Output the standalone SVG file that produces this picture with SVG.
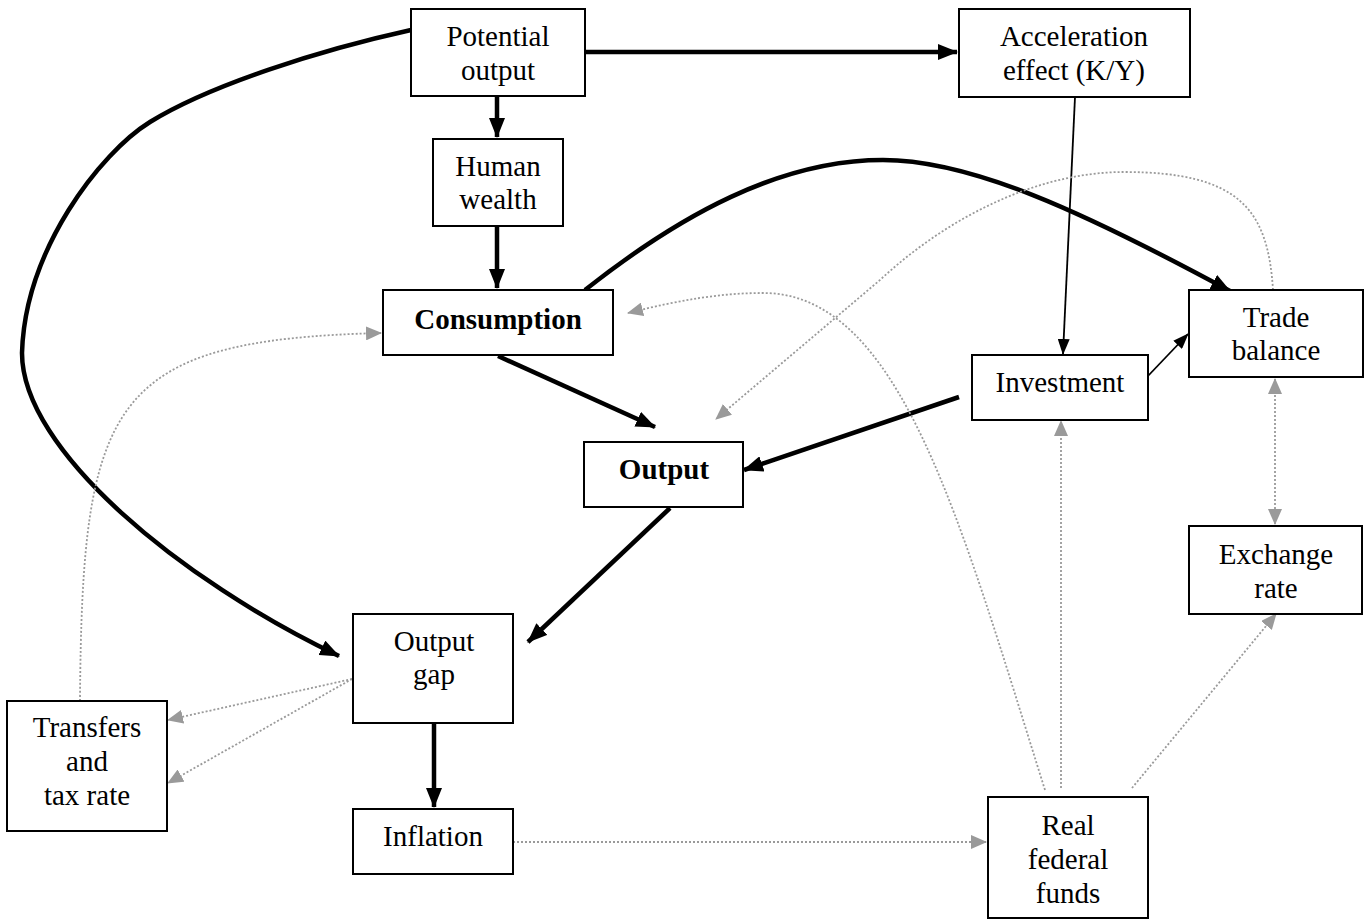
<svg xmlns="http://www.w3.org/2000/svg" width="1370" height="919" viewBox="0 0 1370 919">
<style>
.box{fill:#fff;stroke:#000;stroke-width:2}
.t{font-family:"Liberation Serif","Times New Roman",serif;font-size:29px;fill:#000;text-anchor:middle}
.b{font-weight:bold}
.thick{fill:none;stroke:#000;stroke-width:4.5}
.thin{fill:none;stroke:#000;stroke-width:1.8}
.dot{fill:none;stroke:#9a9a9a;stroke-width:1.8;stroke-dasharray:2 2}
</style>
<defs>
<marker id="ah" markerUnits="userSpaceOnUse" markerWidth="20" markerHeight="16" refX="19" refY="8" orient="auto"><path d="M0,0 L20,8 L0,16 z" fill="#000"/></marker>
<marker id="as" markerUnits="userSpaceOnUse" markerWidth="16" markerHeight="12" refX="15" refY="6" orient="auto"><path d="M0,0 L16,6 L0,12 z" fill="#000"/></marker>
<marker id="ag" markerUnits="userSpaceOnUse" markerWidth="16" markerHeight="14" refX="15" refY="7" orient="auto"><path d="M0,0 L16,7 L0,14 z" fill="#9a9a9a"/></marker>
<marker id="ags" markerUnits="userSpaceOnUse" markerWidth="16" markerHeight="14" refX="15" refY="7" orient="auto-start-reverse"><path d="M0,0 L16,7 L0,14 z" fill="#9a9a9a"/></marker>
</defs>
<g id="connectors">
<path class="thick" d="M497,96 L497,137" marker-end="url(#ah)"/>
<path class="thick" d="M585,52 L957,52" marker-end="url(#ah)"/>
<path class="thick" d="M497,226 L497,288" marker-end="url(#ah)"/>
<path class="thick" d="M498,356 L655,427" marker-end="url(#ah)"/>
<path class="thick" d="M585,290 C680,215 780,160 883,160 C970,160 1080,210 1230,291" marker-end="url(#ah)"/>
<path class="thick" d="M959,397 L744,470" marker-end="url(#ah)"/>
<path class="thick" d="M670,508 L528,642" marker-end="url(#ah)"/>
<path class="thick" d="M411,30 C320,50 210,85 150,122 C100,153 25,250 22,353 C22,450 180,580 339,656" marker-end="url(#ah)"/>
<path class="thick" d="M434,723 L434,807" marker-end="url(#ah)"/>
<path class="thin" d="M1075,97 L1063,354" marker-end="url(#as)"/>
<path class="thin" d="M1147,377 L1188,334" marker-end="url(#as)"/>
<path class="dot" d="M80,701 C82,400 110,340 381,333" marker-end="url(#ag)"/>
<path class="dot" d="M352,679 L168,720" marker-end="url(#ag)"/>
<path class="dot" d="M352,679 L168,783" marker-end="url(#ag)"/>
<path class="dot" d="M513,842 L986,842" marker-end="url(#ag)"/>
<path class="dot" d="M1061,788 L1061,421" marker-end="url(#ag)"/>
<path class="dot" d="M1132,788 L1276,614" marker-end="url(#ag)"/>
<path class="dot" d="M1275,379 L1275,524" marker-start="url(#ags)" marker-end="url(#ags)"/>
<path class="dot" d="M1045,790 C960,520 900,293 763,293 C720,293 680,300 628,313" marker-end="url(#ag)"/>
<path class="dot" d="M1273,290 C1268,210 1240,172 1124,172 C1040,172 950,215 880,280 L716,419" marker-end="url(#ag)"/>
</g>
<g id="potential-output"><rect class="box" x="411" y="9" width="174" height="87"/><text class="t" x="498" y="46">Potential</text><text class="t" x="498" y="80">output</text></g>
<g id="acceleration"><rect class="box" x="959" y="9" width="231" height="88"/><text class="t" x="1074" y="46">Acceleration</text><text class="t" x="1074" y="80">effect (K/Y)</text></g>
<g id="human-wealth"><rect class="box" x="433" y="139" width="130" height="87"/><text class="t" x="498" y="176">Human</text><text class="t" x="498" y="209">wealth</text></g>
<g id="consumption"><rect class="box" x="383" y="290" width="230" height="65"/><text class="t b" x="498" y="329">Consumption</text></g>
<g id="trade-balance"><rect class="box" x="1189" y="290" width="174" height="87"/><text class="t" x="1276" y="327">Trade</text><text class="t" x="1276" y="360">balance</text></g>
<g id="investment"><rect class="box" x="972" y="355" width="176" height="65"/><text class="t" x="1060" y="392">Investment</text></g>
<g id="output"><rect class="box" x="584" y="442" width="159" height="65"/><text class="t b" x="664" y="479">Output</text></g>
<g id="exchange-rate"><rect class="box" x="1189" y="526" width="173" height="88"/><text class="t" x="1276" y="564">Exchange</text><text class="t" x="1276" y="598">rate</text></g>
<g id="output-gap"><rect class="box" x="353" y="614" width="160" height="109"/><text class="t" x="434" y="651">Output</text><text class="t" x="434" y="684">gap</text></g>
<g id="transfers"><rect class="box" x="7" y="701" width="160" height="130"/><text class="t" x="87" y="737">Transfers</text><text class="t" x="87" y="771">and</text><text class="t" x="87" y="805">tax rate</text></g>
<g id="inflation"><rect class="box" x="353" y="809" width="160" height="65"/><text class="t" x="433" y="846">Inflation</text></g>
<g id="real-federal-funds"><rect class="box" x="988" y="797" width="160" height="121"/><text class="t" x="1068" y="835">Real</text><text class="t" x="1068" y="869">federal</text><text class="t" x="1068" y="903">funds</text></g>
</svg>
